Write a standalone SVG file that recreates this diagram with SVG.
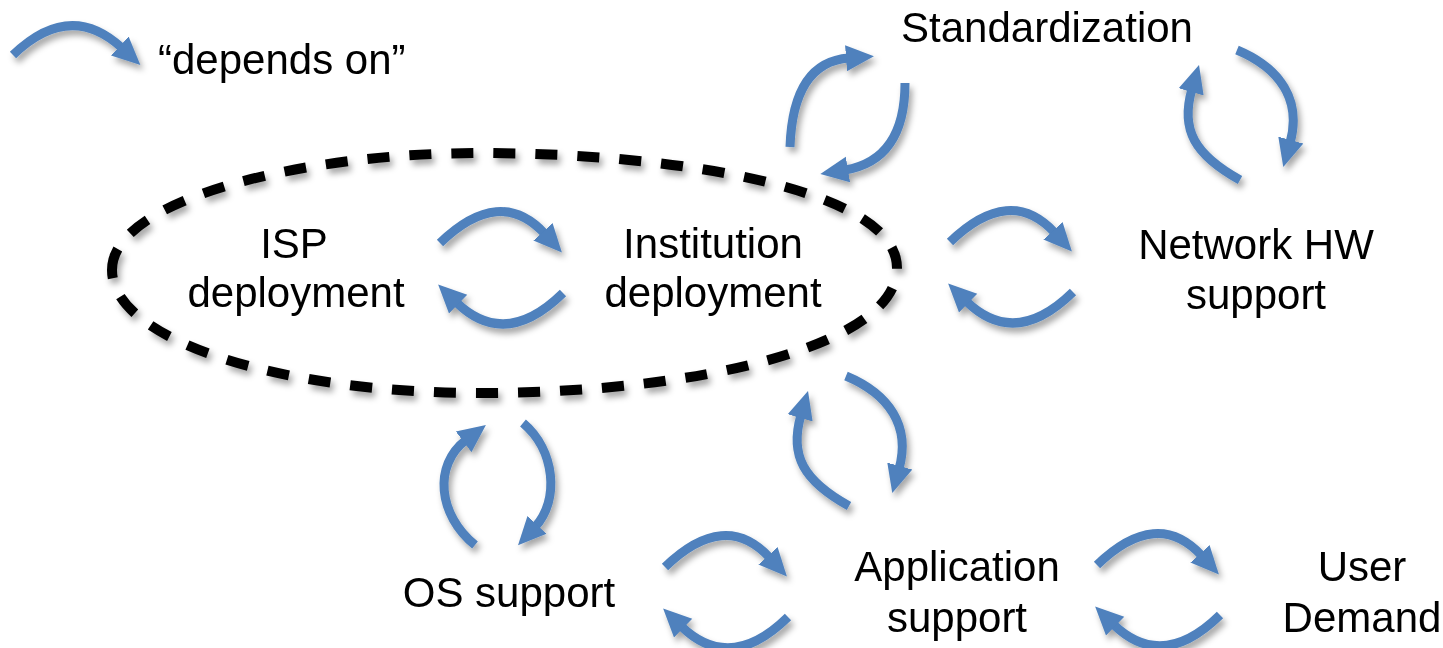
<svg xmlns="http://www.w3.org/2000/svg" width="1443" height="648" viewBox="0 0 1443 648">
<defs>
<filter id="sh" x="-20%" y="-20%" width="140%" height="140%">
<feDropShadow dx="3" dy="5" stdDeviation="3" flood-color="#000" flood-opacity="0.35"/>
</filter>
<marker id="ah" viewBox="0 -14 28 28" refX="3" refY="0" markerWidth="28" markerHeight="28" markerUnits="userSpaceOnUse" orient="auto">
<path d="M0,-13 L28,0 L0,13 z" fill="#4F81BD"/>
</marker>
</defs>
<style>
.lbl{font-family:"Liberation Sans",Arial,sans-serif;font-size:42px;fill:#000;text-anchor:middle}
.arr{fill:none;stroke:#4F81BD;stroke-width:9;marker-end:url(#ah)}
.grp{filter:url(#sh)}
</style>
<rect width="1443" height="648" fill="#fff"/>
<g id="boundary" class="grp">
<path d="M112,270 C112,200 300,153 480,153 C680,153 897,190 897,268 C897,345 700,393 480,393 C280,393 112,340 112,270 Z" fill="none" stroke="#000" stroke-width="10" stroke-dasharray="22 20"/>
</g>
<g id="connectors" class="grp">
<path id="legend-arrow" class="arr" d="M13,55 Q70,0 122,48"/>
<g id="isp-inst">
<path class="arr" d="M440,243 Q500,185 545,234"/>
<path class="arr" d="M563,293 Q505,350 456,302"/>
</g>
<g id="inst-nethw" transform="translate(510,-1)">
<path class="arr" d="M440,243 Q500,185 545,234"/>
<path class="arr" d="M563,293 Q505,350 456,302"/>
</g>
<g id="os-app" transform="translate(225,324)">
<path class="arr" d="M440,243 Q500,185 545,234"/>
<path class="arr" d="M563,293 Q505,350 456,302"/>
</g>
<g id="app-user" transform="translate(657,322)">
<path class="arr" d="M440,243 Q500,185 545,234"/>
<path class="arr" d="M563,293 Q505,350 456,302"/>
</g>
<g id="inst-std">
<path class="arr" d="M790,147 Q793,62 849,58"/>
<path class="arr" d="M905,83 Q905,160 845,170"/>
</g>
<g id="std-nethw">
<path class="arr" d="M1240,180 C1195,155 1180,130 1192,89"/>
<path class="arr" d="M1237,50 C1280,68 1302,100 1290,143"/>
</g>
<g id="inst-app" transform="translate(-391,326)">
<path class="arr" d="M1240,180 C1195,155 1180,130 1192,89"/>
<path class="arr" d="M1237,50 C1280,68 1302,100 1290,143"/>
</g>
<g id="isp-os">
<path class="arr" d="M475,545 C438,515 433,465 466,440"/>
<path class="arr" d="M523,423 C555,450 560,500 535,527"/>
</g>
</g>
<g id="legend"><text class="lbl" x="158" y="74" style="text-anchor:start">“depends on”</text></g>
<g id="standardization"><text class="lbl" x="1047" y="42">Standardization</text></g>
<g id="isp"><text class="lbl" x="294" y="258">ISP</text><text class="lbl" x="296" y="307">deployment</text></g>
<g id="institution"><text class="lbl" x="713" y="258">Institution</text><text class="lbl" x="713" y="307">deployment</text></g>
<g id="network-hw"><text class="lbl" x="1256" y="259">Network HW</text><text class="lbl" x="1256" y="309">support</text></g>
<g id="application"><text class="lbl" x="957" y="581">Application</text><text class="lbl" x="957" y="632">support</text></g>
<g id="os"><text class="lbl" x="509" y="607">OS support</text></g>
<g id="user"><text class="lbl" x="1362" y="581">User</text><text class="lbl" x="1362" y="632">Demand</text></g>
</svg>
